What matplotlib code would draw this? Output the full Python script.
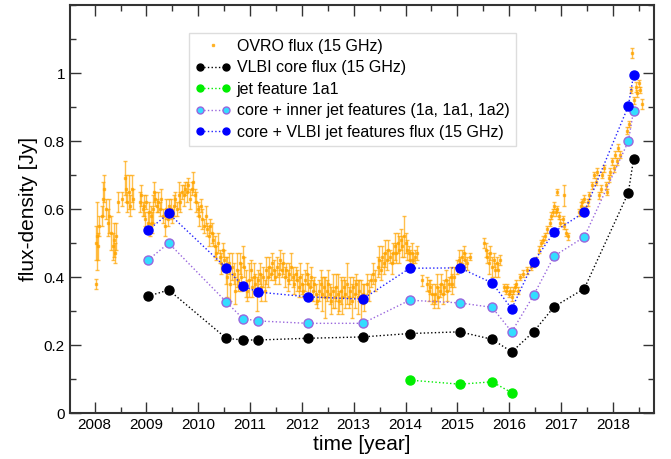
import numpy as np
import matplotlib
matplotlib.use("Agg")
import matplotlib.pyplot as plt
from matplotlib.lines import Line2D
from matplotlib.legend_handler import HandlerLine2D
from matplotlib.ticker import MultipleLocator, FormatStrFormatter

plt.rcParams["font.family"] = ["Liberation Sans", "DejaVu Sans"]

# OVRO 15 GHz single-dish light curve (year, flux [Jy], error [Jy])
ovro_year = [
    2008.02, 2008.03, 2008.05, 2008.07, 2008.09, 2008.14, 2008.17, 2008.19, 2008.22, 2008.25,
    2008.28, 2008.32, 2008.35, 2008.37, 2008.39, 2008.42, 2008.45, 2008.52, 2008.58, 2008.60,
    2008.63, 2008.66, 2008.69, 2008.72, 2008.74, 2008.88, 2008.90, 2008.93, 2008.95, 2008.98,
    2009.00, 2009.03, 2009.05, 2009.07, 2009.09, 2009.11, 2009.13, 2009.15, 2009.17, 2009.20,
    2009.23, 2009.26, 2009.29, 2009.32, 2009.35, 2009.38, 2009.41, 2009.44, 2009.47, 2009.50,
    2009.53, 2009.56, 2009.59, 2009.62, 2009.65, 2009.68, 2009.72, 2009.75, 2009.78, 2009.81,
    2009.84, 2009.87, 2009.90, 2009.93, 2009.96, 2009.99, 2010.02, 2010.05, 2010.08, 2010.11,
    2010.14, 2010.17, 2010.20, 2010.23, 2010.26, 2010.29, 2010.32, 2010.35, 2010.38, 2010.41,
    2010.44, 2010.47, 2010.50, 2010.53, 2010.56, 2010.59, 2010.62, 2010.65, 2010.68, 2010.71,
    2010.74, 2010.77, 2010.80, 2010.83, 2010.86, 2010.89, 2010.92, 2010.95, 2010.98, 2011.01,
    2011.04, 2011.07, 2011.10, 2011.13, 2011.16, 2011.19, 2011.22, 2011.25, 2011.28, 2011.31,
    2011.34, 2011.37, 2011.40, 2011.43, 2011.46, 2011.49, 2011.52, 2011.55, 2011.58, 2011.61,
    2011.64, 2011.67, 2011.70, 2011.73, 2011.76, 2011.79, 2011.82, 2011.85, 2011.88, 2011.91,
    2011.94, 2011.97, 2012.00, 2012.03, 2012.06, 2012.09, 2012.12, 2012.15, 2012.18, 2012.21,
    2012.24, 2012.27, 2012.30, 2012.33, 2012.36, 2012.39, 2012.42, 2012.45, 2012.48, 2012.51,
    2012.54, 2012.57, 2012.60, 2012.63, 2012.66, 2012.69, 2012.72, 2012.75, 2012.78, 2012.81,
    2012.84, 2012.87, 2012.90, 2012.93, 2012.96, 2012.99, 2013.02, 2013.05, 2013.08, 2013.11,
    2013.14, 2013.17, 2013.20, 2013.25, 2013.30, 2013.34, 2013.38, 2013.42, 2013.46, 2013.49,
    2013.52, 2013.55, 2013.58, 2013.61, 2013.64, 2013.67, 2013.70, 2013.73, 2013.76, 2013.79,
    2013.82, 2013.85, 2013.88, 2013.91, 2013.94, 2013.97, 2014.00, 2014.03, 2014.06, 2014.09,
    2014.12, 2014.15, 2014.19, 2014.22, 2014.32, 2014.42, 2014.45, 2014.48, 2014.51, 2014.54,
    2014.57, 2014.60, 2014.63, 2014.66, 2014.69, 2014.72, 2014.75, 2014.78, 2014.81, 2014.84,
    2014.87, 2014.90, 2014.93, 2015.00, 2015.03, 2015.06, 2015.09, 2015.12, 2015.15, 2015.18,
    2015.24, 2015.52, 2015.55, 2015.58, 2015.61, 2015.64, 2015.67, 2015.70, 2015.73, 2015.76,
    2015.79, 2015.82, 2015.90, 2015.93, 2015.96, 2015.99, 2016.02, 2016.05, 2016.08, 2016.11,
    2016.14, 2016.17, 2016.20, 2016.26, 2016.35, 2016.42, 2016.47, 2016.52, 2016.57, 2016.62,
    2016.66, 2016.70, 2016.74, 2016.78, 2016.81, 2016.84, 2016.87, 2016.90, 2016.93, 2016.96,
    2016.99, 2017.03, 2017.06, 2017.10, 2017.14, 2016.92, 2017.05, 2017.35, 2017.38, 2017.41,
    2017.45, 2017.48, 2017.52, 2017.55, 2017.60, 2017.64, 2017.67, 2017.70, 2017.74, 2017.78,
    2017.80, 2017.83, 2017.86, 2017.89, 2017.92, 2017.95, 2017.98, 2018.02, 2018.05, 2018.08,
    2018.11, 2018.14, 2018.28, 2018.31, 2018.35, 2018.37, 2018.40, 2018.44, 2018.47, 2018.50,
    2018.53, 2018.56,
]
ovro_flux = [
    0.38, 0.50, 0.52, 0.49, 0.55, 0.58, 0.63, 0.66, 0.60, 0.56,
    0.58, 0.53, 0.49, 0.51, 0.47, 0.52, 0.62, 0.63, 0.69, 0.66,
    0.62, 0.65, 0.61, 0.66, 0.63, 0.62, 0.64, 0.60, 0.61, 0.57,
    0.62, 0.56, 0.59, 0.54, 0.58, 0.56, 0.60, 0.65, 0.63, 0.61,
    0.62, 0.60, 0.63, 0.58, 0.55, 0.60, 0.57, 0.61, 0.60, 0.58,
    0.61, 0.63, 0.60, 0.64, 0.62, 0.65, 0.64, 0.66, 0.65, 0.67,
    0.63, 0.66, 0.68, 0.64, 0.62, 0.60, 0.58, 0.61, 0.57, 0.55,
    0.58, 0.54, 0.52, 0.55, 0.53, 0.51, 0.49, 0.47, 0.50, 0.46,
    0.44, 0.48, 0.45, 0.42, 0.40, 0.44, 0.38, 0.43, 0.41, 0.36,
    0.42, 0.39, 0.44, 0.40, 0.46, 0.43, 0.38, 0.36, 0.39, 0.42,
    0.37, 0.40, 0.38, 0.35, 0.39, 0.41, 0.37, 0.40, 0.36, 0.42,
    0.40, 0.43, 0.41, 0.44, 0.42, 0.40, 0.43, 0.41, 0.45, 0.42,
    0.44, 0.40, 0.42, 0.39, 0.41, 0.43, 0.40, 0.38, 0.41, 0.39,
    0.37, 0.40, 0.38, 0.36, 0.39, 0.41, 0.38, 0.37, 0.40, 0.36,
    0.38, 0.35, 0.33, 0.36, 0.38, 0.35, 0.37, 0.34, 0.36, 0.38,
    0.35, 0.33, 0.36, 0.34, 0.37, 0.35, 0.33, 0.36, 0.34, 0.37,
    0.35, 0.38, 0.34, 0.36, 0.33, 0.37, 0.35, 0.38, 0.34, 0.36,
    0.33, 0.35, 0.34, 0.38, 0.36, 0.39, 0.41, 0.39, 0.43, 0.45,
    0.42, 0.46, 0.44, 0.47, 0.45, 0.48, 0.46, 0.44, 0.47, 0.49,
    0.47, 0.50, 0.48, 0.51, 0.49, 0.52, 0.50, 0.48, 0.47, 0.45,
    0.47, 0.45, 0.46, 0.47, 0.39, 0.38, 0.36, 0.37, 0.35, 0.33,
    0.35, 0.37, 0.34, 0.36, 0.38, 0.35, 0.37, 0.39, 0.36, 0.38,
    0.40, 0.38, 0.40, 0.43, 0.45, 0.44, 0.46, 0.47, 0.45, 0.44,
    0.46, 0.50, 0.48, 0.46, 0.44, 0.47, 0.43, 0.45, 0.42, 0.44,
    0.42, 0.45, 0.37, 0.36, 0.37, 0.35, 0.36, 0.34, 0.36, 0.37,
    0.38, 0.36, 0.40, 0.41, 0.42, 0.43, 0.44, 0.45, 0.48, 0.50,
    0.51, 0.52, 0.54, 0.56, 0.58, 0.59, 0.61, 0.59, 0.60, 0.58,
    0.56, 0.57, 0.55, 0.53, 0.52, 0.65, 0.64, 0.59, 0.61, 0.62,
    0.63, 0.60, 0.62, 0.64, 0.67, 0.70, 0.68, 0.71, 0.64, 0.66,
    0.70, 0.72, 0.67, 0.65, 0.69, 0.71, 0.74, 0.72, 0.76, 0.74,
    0.78, 0.76, 0.83, 0.85, 0.95, 1.06, 0.92, 0.96, 0.94, 0.97,
    0.95, 0.91,
]
ovro_err = [
    0.015, 0.05, 0.10, 0.04, 0.03, 0.03, 0.05, 0.04, 0.03, 0.04,
    0.05, 0.05, 0.04, 0.05, 0.03, 0.04, 0.03, 0.02, 0.05, 0.04,
    0.03, 0.05, 0.03, 0.04, 0.03, 0.03, 0.03, 0.02, 0.03, 0.02,
    0.02, 0.03, 0.03, 0.02, 0.03, 0.03, 0.04, 0.03, 0.02, 0.02,
    0.03, 0.02, 0.03, 0.02, 0.03, 0.03, 0.02, 0.02, 0.03, 0.02,
    0.03, 0.02, 0.02, 0.04, 0.03, 0.02, 0.03, 0.02, 0.03, 0.02,
    0.03, 0.02, 0.03, 0.02, 0.03, 0.02, 0.03, 0.02, 0.03, 0.02,
    0.03, 0.02, 0.03, 0.02, 0.03, 0.02, 0.03, 0.02, 0.03, 0.02,
    0.03, 0.02, 0.03, 0.04, 0.06, 0.03, 0.05, 0.04, 0.03, 0.04,
    0.05, 0.03, 0.03, 0.04, 0.03, 0.03, 0.04, 0.03, 0.05, 0.03,
    0.03, 0.04, 0.03, 0.05, 0.03, 0.03, 0.04, 0.03, 0.03, 0.04,
    0.03, 0.03, 0.02, 0.03, 0.03, 0.02, 0.03, 0.03, 0.03, 0.02,
    0.03, 0.03, 0.02, 0.03, 0.03, 0.04, 0.03, 0.03, 0.02, 0.03,
    0.03, 0.04, 0.03, 0.02, 0.03, 0.03, 0.03, 0.02, 0.03, 0.03,
    0.02, 0.03, 0.02, 0.03, 0.04, 0.05, 0.03, 0.06, 0.03, 0.04,
    0.03, 0.04, 0.05, 0.03, 0.04, 0.06, 0.03, 0.04, 0.05, 0.03,
    0.04, 0.06, 0.03, 0.04, 0.05, 0.03, 0.04, 0.03, 0.05, 0.03,
    0.06, 0.03, 0.04, 0.03, 0.03, 0.02, 0.03, 0.03, 0.03, 0.04,
    0.03, 0.03, 0.03, 0.04, 0.03, 0.03, 0.02, 0.03, 0.03, 0.04,
    0.03, 0.03, 0.04, 0.03, 0.03, 0.06, 0.03, 0.03, 0.02, 0.03,
    0.03, 0.02, 0.02, 0.02, 0.015, 0.02, 0.03, 0.02, 0.03, 0.02,
    0.03, 0.04, 0.03, 0.02, 0.03, 0.03, 0.02, 0.03, 0.03, 0.02,
    0.03, 0.03, 0.03, 0.02, 0.03, 0.02, 0.02, 0.02, 0.02, 0.02,
    0.01, 0.015, 0.02, 0.02, 0.03, 0.02, 0.03, 0.02, 0.02, 0.02,
    0.02, 0.015, 0.01, 0.01, 0.01, 0.01, 0.01, 0.01, 0.01, 0.01,
    0.01, 0.01, 0.01, 0.01, 0.01, 0.01, 0.01, 0.01, 0.01, 0.01,
    0.01, 0.01, 0.01, 0.01, 0.01, 0.01, 0.01, 0.01, 0.01, 0.01,
    0.01, 0.01, 0.01, 0.01, 0.01, 0.01, 0.03, 0.01, 0.01, 0.01,
    0.01, 0.01, 0.01, 0.01, 0.01, 0.01, 0.01, 0.01, 0.01, 0.01,
    0.01, 0.01, 0.01, 0.01, 0.01, 0.01, 0.01, 0.01, 0.01, 0.01,
    0.01, 0.01, 0.01, 0.01, 0.01, 0.015, 0.01, 0.015, 0.01, 0.01,
    0.01, 0.015,
]

# VLBI epochs
vlbi_year = [2009.03, 2009.43, 2010.54, 2010.86, 2011.15, 2012.11, 2013.17, 2014.08,
             2015.05, 2015.67, 2016.05, 2016.47, 2016.87, 2017.45, 2018.30, 2018.40]
core_flux = [0.344, 0.362, 0.220, 0.215, 0.215, 0.220, 0.224, 0.234,
             0.239, 0.217, 0.180, 0.239, 0.313, 0.366, 0.648, 0.746]
inner_flux = [0.450, 0.500, 0.327, 0.278, 0.271, 0.264, 0.264, 0.332,
              0.324, 0.311, 0.239, 0.346, 0.462, 0.518, 0.799, 0.888]
total_flux = [0.538, 0.587, 0.427, 0.374, 0.356, 0.342, 0.335, 0.426,
              0.427, 0.383, 0.307, 0.444, 0.533, 0.591, 0.903, 0.993]

jet_year = [2014.08, 2015.05, 2015.67, 2016.05]
jet_flux = [0.097, 0.085, 0.092, 0.060]

fig = plt.figure(figsize=(6.71, 4.59), dpi=100)
ax = fig.add_axes([0.104, 0.100, 0.871, 0.889])

ax.errorbar(ovro_year, ovro_flux, yerr=ovro_err, fmt="s", ms=2, color="orange",
            ecolor="orange", elinewidth=1, capsize=1.5, alpha=0.7, zorder=2)
ax.plot(vlbi_year, core_flux, ":", color="black", marker="o", ms=6.5, lw=1, zorder=3)
ax.plot(jet_year, jet_flux, ":", color="#00ee00", marker="o", ms=6.5, lw=1, zorder=3)
ax.plot(vlbi_year, inner_flux, ":", color="#9966dd", marker="o", ms=6.5, lw=1,
        mfc="#33ddff", mec="#9966dd", mew=1, zorder=3)
ax.plot(vlbi_year, total_flux, ":", color="#2222ff", marker="o", ms=6.5, lw=1,
        mfc="blue", mec="blue", zorder=4)

ax.set_xlim(2007.52, 2018.8)
ax.set_ylim(0, 1.2)
ax.set_xticks(range(2008, 2019))
ax.xaxis.set_minor_locator(MultipleLocator(0.5))
ax.set_yticks([0, 0.2, 0.4, 0.6, 0.8, 1.0])
ax.yaxis.set_minor_locator(MultipleLocator(0.1))
ax.yaxis.set_major_formatter(FormatStrFormatter("%g"))
ax.tick_params(which="both", direction="in", top=True, right=True, labelsize=11,
               color="#333333")
ax.tick_params(which="major", length=8, width=1)
ax.tick_params(which="minor", length=4, width=1)
for s in ax.spines.values():
    s.set_linewidth(1.5)
    s.set_color("#333333")

ax.set_xlabel("time [year]", fontsize=15, labelpad=2)
ax.set_ylabel("flux-density [Jy]", fontsize=15, labelpad=4)

# legend
h_ovro = Line2D([], [], ls="none", marker="s", ms=2, color="orange", alpha=0.75)
h_core = Line2D([], [], ls=":", lw=1, color="black", marker="o", ms=5)
h_jet = Line2D([], [], ls=":", lw=1, color="#00ee00", marker="o", ms=5)
h_inner = Line2D([], [], ls=":", lw=1, color="#9966dd", marker="o", ms=5,
                 mfc="#33ddff", mec="#9966dd")
h_total = Line2D([], [], ls=":", lw=1, color="#2222ff", marker="o", ms=5,
                 mfc="blue", mec="blue")
leg = ax.legend([h_ovro, h_core, h_jet, h_inner, h_total],
                ["OVRO flux (15 GHz)", "VLBI core flux (15 GHz)", "jet feature 1a1",
                 "core + inner jet features (1a, 1a1, 1a2)",
                 "core + VLBI jet features flux (15 GHz)"],
                loc="upper left", bbox_to_anchor=(0.19, 0.952), fontsize=11.5,
                numpoints=2, handlelength=2.2, handletextpad=0.4, labelspacing=0.4,
                borderpad=0.4, fancybox=False, framealpha=1, edgecolor="#dddddd",
                handler_map={h_ovro: HandlerLine2D(numpoints=1)})

fig.savefig("out.png", dpi=100)
